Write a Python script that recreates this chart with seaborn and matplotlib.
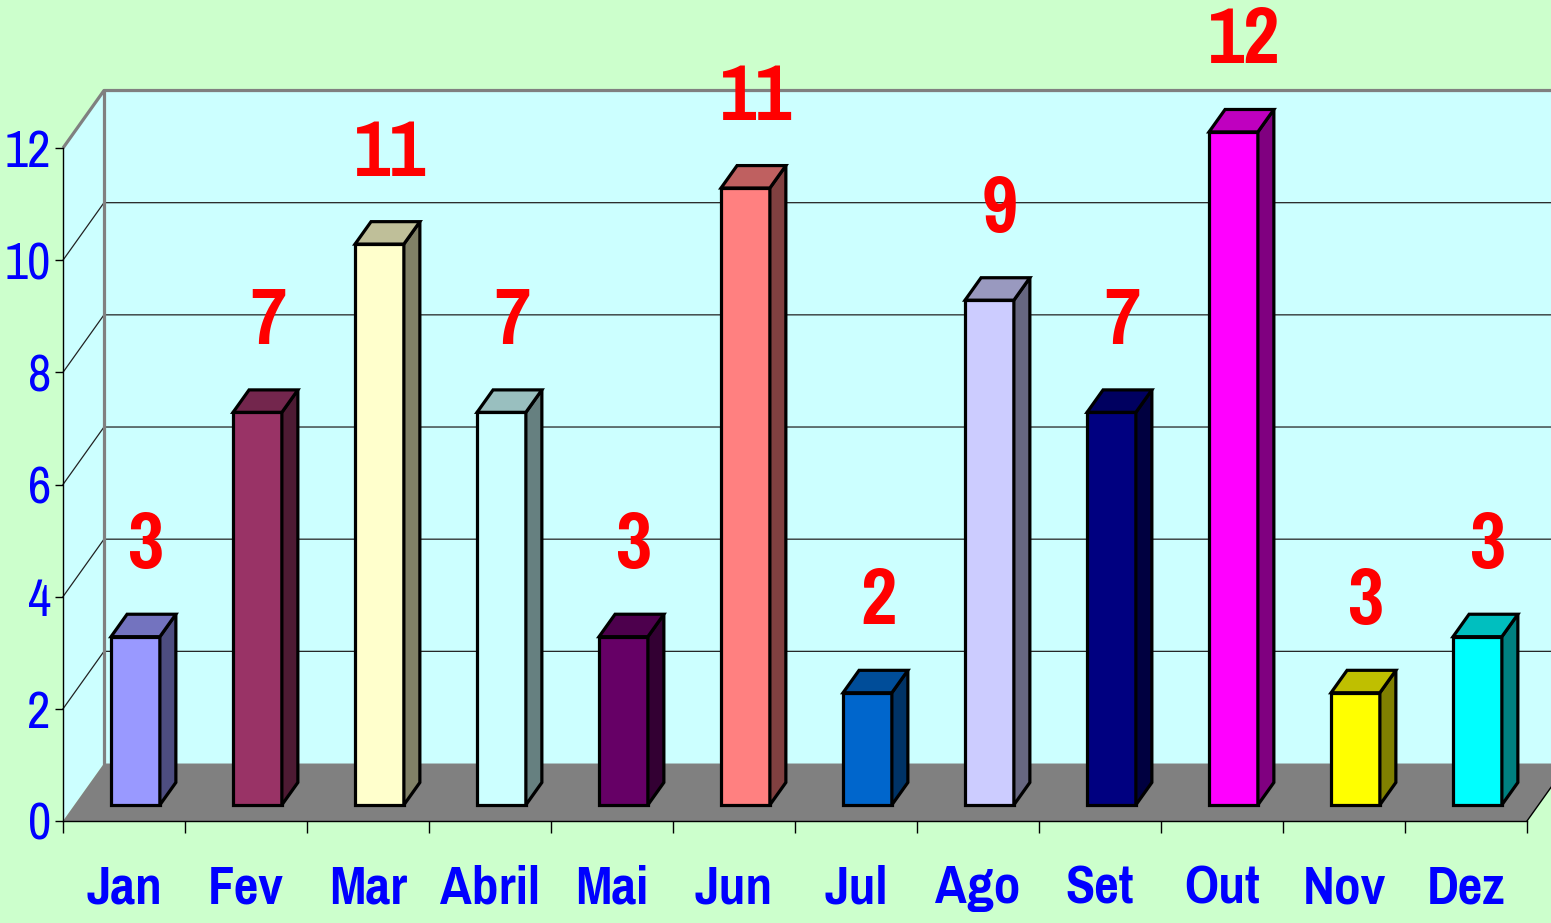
import numpy as np
import matplotlib
matplotlib.use("Agg")
import matplotlib.pyplot as plt
import matplotlib.transforms as mtransforms
from matplotlib.patches import Polygon, Rectangle
from matplotlib.colors import to_rgb
import seaborn as sns
import pandas as pd

# ---------------- data ----------------
months = ["Jan", "Fev", "Mar", "Abril", "Mai", "Jun", "Jul", "Ago", "Set", "Out", "Nov", "Dez"]
bar_values = [3, 7, 10, 7, 3, 11, 2, 9, 7, 12, 2, 3]
label_values = [3, 7, 11, 7, 3, 11, 2, 9, 7, 12, 3, 3]
bar_colors = ["#9999FF", "#993366", "#FFFFCC", "#CCFFFF", "#660066", "#FF8080",
              "#0066CC", "#CCCCFF", "#000080", "#FF00FF", "#FFFF00", "#00FFFF"]
y_ticks = [0, 2, 4, 6, 8, 10, 12]

# ---------------- style ----------------
FONT = ["Pragati Narrow", "Roboto Condensed", "Liberation Sans", "DejaVu Sans"]
plt.rcParams["font.family"] = FONT

W, H = 1551, 923
fig = plt.figure(figsize=(W / 100, H / 100), dpi=100, facecolor="#CCFFCC")
ax = fig.add_axes([63 / W, (H - 821) / H, 1464 / W, 673 / H])
ax.set_facecolor("none")

df = pd.DataFrame({"mes": months, "valor": bar_values})
sns.barplot(data=df, x="mes", y="valor", hue="mes", palette=bar_colors,
            width=0.4, edgecolor="black", linewidth=2.3, saturation=1,
            legend=False, ax=ax, order=months, hue_order=months)
bars = list(ax.patches)
ax.autoscale(False)

# depth vector of the 3D box (data units) and bar depth fractions
Dx, Dy = 0.336, 1.025
f0, f1 = 0.28, 0.67
x_left, x_right, y_top = -0.5, 11.5, 12

wall_c = "#CCFFFF"
ax.add_patch(Rectangle((x_left + Dx, Dy), x_right - x_left, y_top, fc=wall_c, ec="none",
                       zorder=0.2, clip_on=False))
ax.add_patch(Polygon([(x_left, 0), (x_left, y_top), (x_left + Dx, y_top + Dy), (x_left + Dx, Dy)],
                     closed=True, fc=wall_c, ec="none", zorder=0.2, clip_on=False))
for v in y_ticks[1:-1]:
    ax.plot([x_left, x_left + Dx, x_right + Dx], [v, v + Dy, v + Dy],
            color="#222222", lw=0.9, zorder=0.5, clip_on=False)
ax.plot([x_left, x_left + Dx, x_right + Dx], [y_top, y_top + Dy, y_top + Dy],
        color="#808080", lw=2.3, zorder=0.55, clip_on=False, solid_capstyle="butt")
ax.plot([x_left + Dx, x_left + Dx], [Dy, y_top + Dy], color="#808080", lw=2.3,
        zorder=0.55, clip_on=False)
ax.add_patch(Polygon([(x_left, 0), (x_right, 0), (x_right + Dx, Dy), (x_left + Dx, Dy)],
                     closed=True, fc="#808080", ec="none", zorder=0.6, clip_on=False))
ax.plot([x_right, x_right + Dx], [0, Dy], color="black", lw=1, zorder=0.7, clip_on=False)

# 3D bars
sx, sy = f0 * Dx, f0 * Dy
dx, dy = (f1 - f0) * Dx, (f1 - f0) * Dy
for bar, col in zip(bars, bar_colors):
    bar.set_transform(mtransforms.Affine2D().translate(sx, sy) + ax.transData)
    bar.set_clip_on(False)
    bar.set_zorder(3)
    bar.set_joinstyle("miter")
    x0 = bar.get_x() + sx
    x1 = x0 + bar.get_width()
    h = bar.get_height()
    rgb = np.array(to_rgb(col))
    top = Polygon([(x0, h + sy), (x1, h + sy), (x1 + dx, h + sy + dy), (x0 + dx, h + sy + dy)],
                  closed=True, fc=rgb * 0.75, ec="black", lw=2.3, zorder=3, clip_on=False,
                  joinstyle="miter")
    side = Polygon([(x1, sy), (x1, h + sy), (x1 + dx, h + sy + dy), (x1 + dx, sy + dy)],
                   closed=True, fc=rgb * 0.5, ec="black", lw=2.3, zorder=3, clip_on=False,
                   joinstyle="miter")
    ax.add_patch(side)
    ax.add_patch(top)

# value labels
for i, (bv, lv) in enumerate(zip(bar_values, label_values)):
    ax.text(i + 0.18, bv + 1.9, str(lv), ha="center", va="center", color="#FF0000",
            fontsize=62, fontweight="bold", family=FONT, zorder=5, clip_on=False)

# axes
ax.set_xlim(x_left, x_right)
ax.set_ylim(0, y_top)
for s in ["top", "right"]:
    ax.spines[s].set_visible(False)
for s in ["left", "bottom"]:
    ax.spines[s].set_color("black")
    ax.spines[s].set_linewidth(1)
ax.set_yticks(y_ticks)
ax.set_yticklabels([str(t) for t in y_ticks])
ax.tick_params(axis="y", length=5.8, width=1, color="black", labelsize=40,
               labelcolor="#0000FF", pad=3)
ax.set_xticks(range(len(months)))
ax.set_xticklabels(months, fontweight="bold")
ax.set_xticks(np.arange(-0.5, len(months), 1), minor=True)
ax.tick_params(axis="x", which="major", length=0, labelsize=42, labelcolor="#0000FF", pad=31)
ax.tick_params(axis="x", which="minor", length=8.6, width=1, color="black")
ax.set_xlabel("")
ax.set_ylabel("")

fig.savefig("out.png", dpi=100, facecolor=fig.get_facecolor())
